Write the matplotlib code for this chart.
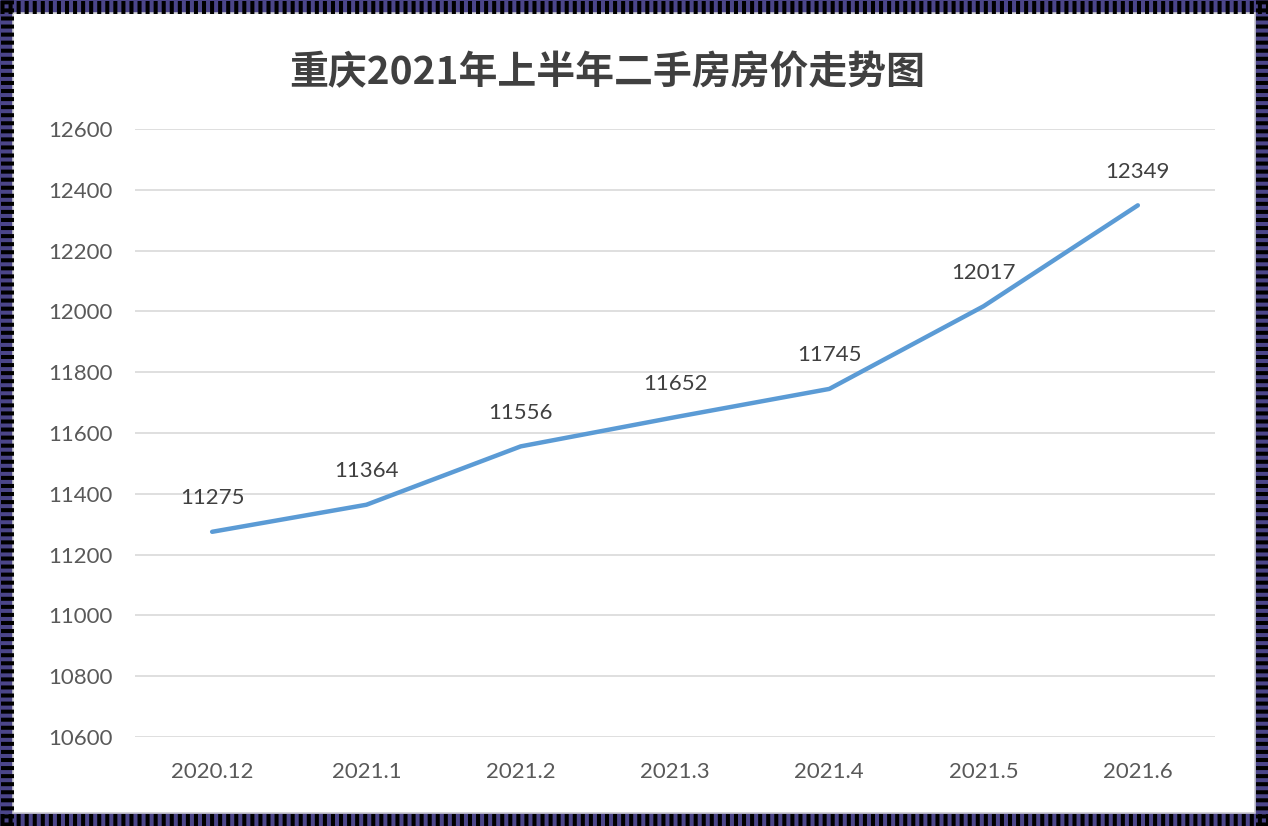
import matplotlib.pyplot as plt
from matplotlib.lines import Line2D
from matplotlib.patches import Rectangle

plt.rcParams['font.family'] = ['Lato', 'Noto Sans CJK SC', 'DejaVu Sans']

# 数据
meses = ["2020.12", "2021.1", "2021.2", "2021.3", "2021.4", "2021.5", "2021.6"]
precos = [11275, 11364, 11556, 11652, 11745, 12017, 12349]
ticks_y = list(range(10600, 12601, 200))
titulo = "重庆2021年上半年二手房房价走势图"

W, H = 1268, 826
fig = plt.figure(figsize=(W / 100, H / 100), dpi=100)
fig.patch.set_facecolor("white")

ax = fig.add_axes([135 / W, 1 - 737 / H, 1080 / W, 608 / H])
x = list(range(len(meses)))
ax.plot(x, precos, color="#5b9bd5", linewidth=3.2, solid_capstyle="round", zorder=3)
for xi, v in zip(x, precos):
    ax.annotate(f"{v}", (xi, v), xytext=(0, 17), textcoords="offset points",
                ha="center", va="bottom", fontsize=16, color="#404040")

ax.set_xlim(-0.5, len(meses) - 0.5)
ax.set_ylim(10600, 12600)
ax.set_yticks(ticks_y)
ax.set_xticks(x)
ax.set_xticklabels(meses)
ax.grid(axis="y", color="#d9d9d9", linewidth=1.2)
ax.set_axisbelow(True)
for s in ax.spines.values():
    s.set_visible(False)
ax.tick_params(axis="both", length=0, labelsize=16, labelcolor="#595959")
ax.tick_params(axis="y", pad=16)
ax.tick_params(axis="x", pad=18)

fig.text(607 / W, 1 - 73 / H, titulo, ha="center", va="center", fontsize=28,
         fontweight="bold", color="#404040", family=["Noto Sans CJK SC", "DejaVu Sans"])

# moldura tracejada
b = 13
fig.patches.append(Rectangle((0, 0), 1, 1, transform=fig.transFigure, fill=False,
                             edgecolor="#4b4589", linewidth=b * 2 * 0.72, zorder=10))
fig.patches.append(Rectangle((b / W, b / H), 1 - 2 * b / W, 1 - 2 * b / H,
                             transform=fig.transFigure, fill=False,
                             edgecolor="#c8c8d0", linewidth=1.2, zorder=10))
for (x0, y0, x1, y1) in [(0, b / 2, W, b / 2), (0, H - b / 2, W, H - b / 2),
                         (b / 2, 0, b / 2, H), (W - b / 2, 0, W - b / 2, H)]:
    ln = Line2D([x0 / W, x1 / W], [y0 / H, y1 / H], transform=fig.transFigure,
                color="black", linewidth=b * 0.72, dashes=(0.31, 0.31), zorder=11)
    fig.lines.append(ln)

fig.savefig("out.png", dpi=100)
